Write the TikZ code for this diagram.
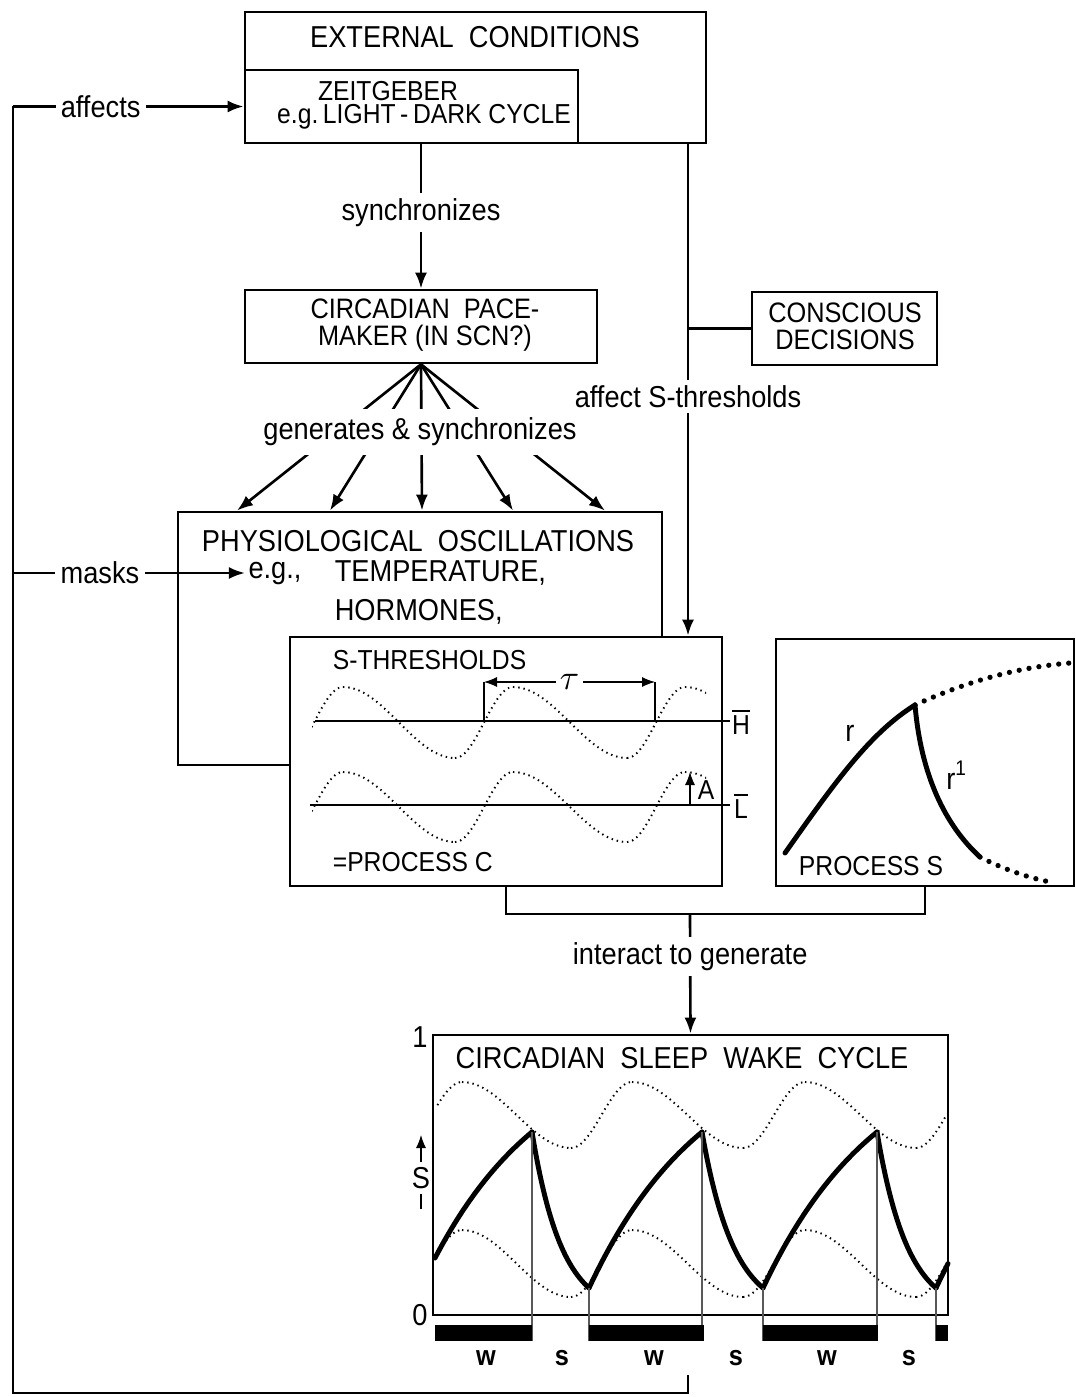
\documentclass[tikz,border=0pt]{standalone}
\usepackage{fontspec}
\setmainfont{Liberation Sans}[FakeStretch=0.9]
\usetikzlibrary{arrows.meta,calc}

\newcommand\labfont{\fontsize{8.6}{9.6}\selectfont}
\newcommand\boxfont{\fontsize{8.6}{9.2}\selectfont}
\newcommand\smfont{\fontsize{7.8}{8.4}\selectfont}
\newcommand\twofont{\fontsize{8}{7.6}\selectfont}
\newcommand\wsfont{\fontsize{8}{9}\selectfont\bfseries}

\tikzset{
  box/.style={draw,line width=0.75pt,fill=white,inner sep=0pt},
  arr/.style={line width=0.75pt,-{Latex[length=1.6mm,width=1.2mm]}},
  lab/.style={fill=white,inner sep=1.5pt,font=\labfont},
  txt/.style={inner sep=1pt,font=\boxfont},
  thinl/.style={line width=0.3pt},
  dots/.style={line width=0.55pt,dash pattern=on 0.4pt off 1.1pt},
  bigdots/.style={line width=1.5pt,line cap=round,dash pattern=on 0pt off 1mm},
  scurve/.style={line width=1.4pt,line cap=round,line join=round}
}

\begin{document}
\begin{tikzpicture}[x=0.01cm,y=-0.01cm,line width=0.75pt]
\useasboundingbox (0,0) rectangle (1076,1397);

% boxes
\node[box,minimum width=4.61cm,minimum height=1.31cm] (ext) at (475.5,77.5) {};
\node[box,minimum width=3.33cm,minimum height=0.73cm] (zeit) at (411.5,106.5) {};
\node[box,minimum width=3.52cm,minimum height=0.73cm] (pace) at (421,326.5) {};
\node[box,minimum width=1.85cm,minimum height=0.73cm] (consc) at (844.5,328.5) {};
\node[box,minimum width=4.84cm,minimum height=2.53cm] (phys) at (420,638.5) {};
\node[box,minimum width=4.32cm,minimum height=2.49cm] (sthr) at (506,761.5) {};
\node[box,minimum width=2.98cm,minimum height=2.47cm] (procS) at (925,762.5) {};
\node[box,minimum width=5.15cm,minimum height=2.80cm] (swc) at (690.5,1175) {};

% box texts
\node[txt] (exttxt) at (475,37) {EXTERNAL\ \ CONDITIONS};
\node[txt,font=\smfont] (zt1) at (388,91) {ZEITGEBER};
\node[txt,font=\smfont] (zt2) at (424,117) {e.g.\,LIGHT\,-\,DARK CYCLE};
\node[txt,align=center,font=\twofont] (pacetxt) at (425,325) {CIRCADIAN\ \ PACE-\\MAKER (IN SCN?)};
\node[txt,align=center,font=\twofont] (consctxt) at (845,326) {CONSCIOUS\\DECISIONS};
\node[txt] (phystxt) at (418,541) {PHYSIOLOGICAL\ \ OSCILLATIONS};
\node[txt] (eg) at (275,573) {e.g.,};
\node[txt,anchor=west] (temp) at (330,573) {TEMPERATURE,};
\node[txt,anchor=west] (horm) at (330,612) {HORMONES,};

% connectors
\coordinate (lt) at (13,106.5);
\coordinate (rt) at (688,143);
\coordinate (mk) at (245,573);
\coordinate (jn) at (690,914);
\coordinate (fbs) at (688,1375);
\coordinate (fbc) at (13,1393);

\draw[arr] (lt) -- (zeit.west) node[lab,pos=0.38] {affects};
\draw[arr] (mk -| lt) -- (mk) node[lab,pos=0.375] {masks};
\draw (fbs) |- (fbc) -- (lt);
\draw[arr] (pace.north |- ext.south) -- (pace.north) node[lab,pos=0.47] {synchronizes};
\foreach \xx in {237,330,422,513,605}
  \draw[arr] (pace.south) -- (\xx,0 |- phys.north);
\node[lab,inner ysep=2.5pt,inner xsep=1pt] (gen) at (420,432) {generates \& synchronizes};
\draw[arr] (rt) -- (rt |- sthr.north) node[lab,pos=0.514] {affect S-thresholds};
\draw (consc.west) -- (consc.west -| rt);
\draw (sthr.south) -- (sthr.south |- jn) -| (procS.south);
\draw[arr] (jn) -- (swc.north) node[lab,pos=0.355] {interact to generate};

% S-thresholds
\node[txt,anchor=west,font=\smfont] (sttl) at (328,660) {S-THRESHOLDS};
\node[txt,anchor=west,font=\smfont] (pc) at (328,862) {=PROCESS C};
\draw[thinl] (315,721) -- (730,721);
\draw[thinl] (310,805) -- (730,805);
\node[txt,font=\smfont] (hh) at (741,722) {$\overline{\mbox{H}}$};
\node[txt,font=\smfont] (ll) at (741,806) {$\overline{\mbox{L}}$};
\begin{scope}
\clip (312,640) rectangle (706,880);
\foreach \ym/\am in {722.5/35.5,807/35}
  \foreach \xa/\xb/\s in {285/343/1,343/455/-1,455/513/1,513/627/-1,627/685/1,685/798/-1}
    \draw[dots] plot[domain=\xa:\xb,samples=30,smooth] (\x,{\ym+\s*\am*cos((\x-\xa)/(\xb-\xa)*180)});
\end{scope}
\draw[thinl] (484,682) -- (484,721);
\draw[thinl] (655,682) -- (655,721);
\draw[thinl,{Latex[length=1.3mm,width=1mm]}-{Latex[length=1.3mm,width=1mm]}] (484,682) -- (655,682) node[pos=0.5,fill=white,inner sep=1pt] (tau) {$\tau$};
\draw[thinl,-{Latex[length=1.3mm,width=1mm]}] (690,805) -- (690,772);
\node[txt,font=\smfont] (amp) at (706,790) {A};

% process S
\draw[scurve] (785,853) .. controls (835,782) and (870,733) .. (915,705);
\draw[bigdots] (915,705) .. controls (970,680) and (1020,667) .. (1070,663);
\draw[scurve] (915,705) .. controls (921,775) and (945,825) .. (980,857);
\draw[bigdots] (980,857) .. controls (1005,870) and (1030,878) .. (1050,882);
\node[txt] (rr) at (850,733) {r};
\node[txt] (rr1) at (957,775) {r\textsuperscript{1}};
\node[txt,font=\smfont] (pstxt) at (871,866) {PROCESS S};

% sleep wake cycle
\node[txt] (swctxt) at (682,1058) {CIRCADIAN\ \ SLEEP\ \ WAKE\ \ CYCLE};
\node[txt] (one) at (420,1037) {1};
\node[txt] (zero) at (420,1315) {0};
\node[txt] (slab) at (421,1178) {S};
\draw[thinl,-{Latex[length=1.3mm,width=1mm]}] (slab.north) -- (421,1135);
\draw[thinl] (slab.south) -- ++(0,15);
\begin{scope}
\clip (436,1040) rectangle (946,1312);
\foreach \ym/\am in {1115/33,1263.5/33.5}
  \foreach \xa/\xb/\s in {401/462/1,462/571/-1,571/632/1,632/743/-1,743/805/1,805/916/-1,916/977/1}
    \draw[dots] plot[domain=\xa:\xb,samples=30,smooth] (\x,{\ym+\s*\am*cos((\x-\xa)/(\xb-\xa)*180)});
\end{scope}
\foreach \xa/\ya/\xb/\k in {435/1258/532/116.5,589/1288/702/117.9,763/1288/877/118.9,936/1288/948/118}
  \draw[scurve] plot[domain=\xa:\xb,samples=30,smooth] (\x,{1035+(\ya-1035)*exp(-(\x-\xa)/\k)});
\foreach \xa/\xb/\k in {532/589/29.8,702/763/31.9,877/936/30.8}
  \draw[scurve] plot[domain=\xa:\xb,samples=30,smooth] (\x,{1315-183*exp(-(\x-\xa)/\k)});
\foreach \xv/\yv in {532/1132,702/1132,877/1132,589/1288,763/1288,936/1288}
  \draw[thinl,black!65] (\xv,\yv) -- (\xv,1341);
\foreach \xa/\xb in {435/532,589/704,763/878,936/948}
  \fill (\xa,1325) rectangle (\xb,1341);
\foreach \xl/\t in {486/w,562/s,654/w,736/s,827/w,909/s}
  \node[font=\wsfont] (ws\xl) at (\xl,1358) {\t};
\end{tikzpicture}
\end{document}
